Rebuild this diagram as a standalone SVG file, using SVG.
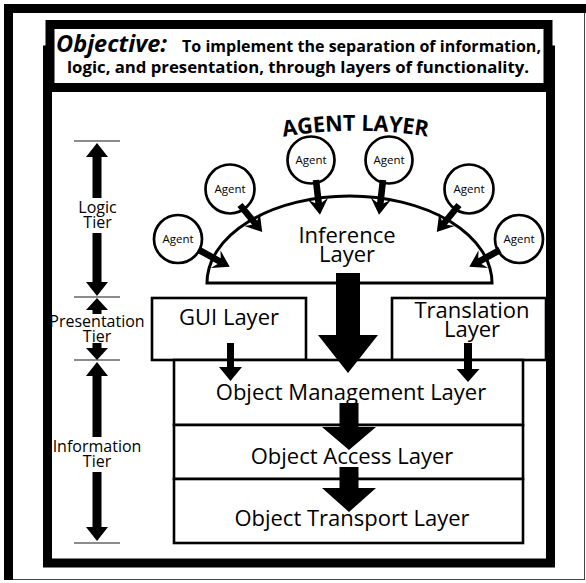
<svg xmlns="http://www.w3.org/2000/svg" xmlns:xlink="http://www.w3.org/1999/xlink" width="586" height="583" viewBox="0 0 586 583">
<style>
.box{fill:#fff;stroke:#000;stroke-width:2.6}
.frame{fill:#fff;stroke:#000;stroke-width:9}
.lbl{font-family:"Open Sans","DejaVu Sans",sans-serif;fill:#000;text-anchor:middle}
.big{font-size:22px}
.tier{font-size:16px}
.ag{font-size:11.5px}
.title{font-family:"Open Sans","DejaVu Sans",sans-serif;font-weight:bold;fill:#000}
.tick{stroke:#666;stroke-width:1.3}
.arr{fill:#000}
.agent{fill:#fff;stroke:#000;stroke-width:2.7}
</style>
<defs>
<path id="sa" d="M0,-3.3 L23,-3.3 L19,-10 L35,0 L19,10 L23,3.3 L0,3.3 Z"/>
<path id="agentArc" d="M268,139.6 A435 435 0 0 1 443,139.6"/>
</defs>

<g id="outer-frame">
<rect x="4" y="4" width="582" height="9" fill="#000"/>
<rect x="4" y="4" width="9" height="576" fill="#000"/>
<line x1="584.5" y1="13" x2="584.5" y2="580" stroke="#444" stroke-width="1"/>
<line x1="13" y1="579.5" x2="585" y2="579.5" stroke="#444" stroke-width="1"/>
</g>

<g id="main-frame">
<rect class="frame" x="47.5" y="50" width="503" height="513"/>
</g>

<g id="objective">
<rect class="frame" x="50" y="24.5" width="498" height="63"/>
<text class="title" x="56" y="52" font-size="23" font-style="italic" textLength="111" lengthAdjust="spacingAndGlyphs">Objective:</text>
<text class="title" x="182" y="52" font-size="16" textLength="359" lengthAdjust="spacingAndGlyphs">To implement the separation of information,</text>
<text class="title" x="67" y="73" font-size="16" textLength="462" lengthAdjust="spacingAndGlyphs">logic, and presentation, through layers of functionality.</text>
</g>

<g id="tiers">
<line class="tick" x1="74" y1="141" x2="120" y2="141"/>
<line class="tick" x1="74" y1="297" x2="120" y2="297"/>
<line class="tick" x1="74" y1="360" x2="120" y2="360"/>
<line class="tick" x1="74" y1="543" x2="120" y2="543"/>
<path class="arr" d="M97,143 L108,157 H101.5 V198 H92.5 V157 H86 Z"/>
<path class="arr" d="M97,296 L108,282 H101.5 V233 H92.5 V282 H86 Z"/>
<text class="lbl tier"><tspan x="97.5" y="213">Logic</tspan><tspan x="97.5" y="228">Tier</tspan></text>
<path class="arr" d="M97,298 L108,310 H101.5 V314 H92.5 V310 H86 Z"/>
<path class="arr" d="M97,360 L108,348 H101.5 V343 H92.5 V348 H86 Z"/>
<text class="lbl tier"><tspan x="97" y="327">Presentation</tspan><tspan x="97" y="342">Tier</tspan></text>
<path class="arr" d="M97,362 L108,376 H101.5 V437 H92.5 V376 H86 Z"/>
<path class="arr" d="M97,541 L108,527 H101.5 V472 H92.5 V527 H86 Z"/>
<text class="lbl tier"><tspan x="97" y="452">Information</tspan><tspan x="97" y="467">Tier</tspan></text>
</g>

<g id="agent-layer">
<text class="lbl" font-size="22" font-weight="bold"><textPath xlink:href="#agentArc" href="#agentArc" startOffset="50%" textLength="145" lengthAdjust="spacingAndGlyphs">AGENT LAYER</textPath></text>
</g>

<g id="inference-layer">
<path d="M207,283 A142.5 87 0 0 1 492,283 Z" fill="#fff" stroke="#000" stroke-width="3"/>
<text class="lbl big"><tspan x="347" y="243">Inference</tspan><tspan x="347" y="262">Layer</tspan></text>
</g>

<g id="agent1"><circle class="agent" cx="178" cy="239" r="24"/><text class="lbl ag" x="178" y="243">Agent</text></g>
<g id="agent2"><circle class="agent" cx="230" cy="189" r="24.5"/><text class="lbl ag" x="230" y="193">Agent</text></g>
<g id="agent3"><circle class="agent" cx="311" cy="160" r="23.5"/><text class="lbl ag" x="311" y="164">Agent</text></g>
<g id="agent4"><circle class="agent" cx="389" cy="160" r="23.5"/><text class="lbl ag" x="389" y="164">Agent</text></g>
<g id="agent5"><circle class="agent" cx="469" cy="189" r="24.5"/><text class="lbl ag" x="469" y="193">Agent</text></g>
<g id="agent6"><circle class="agent" cx="519" cy="239" r="24"/><text class="lbl ag" x="519" y="243">Agent</text></g>

<g id="gui-layer">
<rect class="box" x="152" y="298" width="154" height="62"/>
<text class="lbl big" x="229" y="325">GUI Layer</text>
</g>

<g id="translation-layer">
<rect class="box" x="392" y="298" width="154" height="62"/>
<text class="lbl big"><tspan x="472" y="318">Translation</tspan><tspan x="472" y="337">Layer</tspan></text>
</g>

<g id="object-management-layer">
<rect class="box" x="174" y="360" width="349" height="65"/>
<text class="lbl big" x="351" y="400">Object Management Layer</text>
</g>
<g id="object-access-layer">
<rect class="box" x="174" y="425" width="349" height="54"/>
<text class="lbl big" x="352" y="464">Object Access Layer</text>
</g>
<g id="object-transport-layer">
<rect class="box" x="174" y="479" width="349" height="64"/>
<text class="lbl big" x="352" y="526">Object Transport Layer</text>
</g>

<g id="connectors" class="arr">
<use href="#sa" xlink:href="#sa" transform="translate(199,250) rotate(28.7)"/>
<use href="#sa" xlink:href="#sa" transform="translate(240,205) rotate(50.6)"/>
<use href="#sa" xlink:href="#sa" transform="translate(316,180) rotate(83.5)"/>
<use href="#sa" xlink:href="#sa" transform="translate(383,180) rotate(96.5)"/>
<use href="#sa" xlink:href="#sa" transform="translate(459,205) rotate(129.4)"/>
<use href="#sa" xlink:href="#sa" transform="translate(500,250) rotate(151.3)"/>
<path d="M336,273 H360 V335 H378 L348,373 L318,335 H336 Z"/>
<path d="M227,343 H234 V367 H242 L230.5,381 L219,367 H227 Z"/>
<path d="M464,343 H472 V369 H479.5 L468,382 L456.5,369 H464 Z"/>
<path d="M339.5,403 H358.5 V427 H376 L349,450 L322,427 H339.5 Z"/>
<path d="M339.5,467 H358.5 V488 H376 L349,512 L322,488 H339.5 Z"/>
</g>
</svg>
